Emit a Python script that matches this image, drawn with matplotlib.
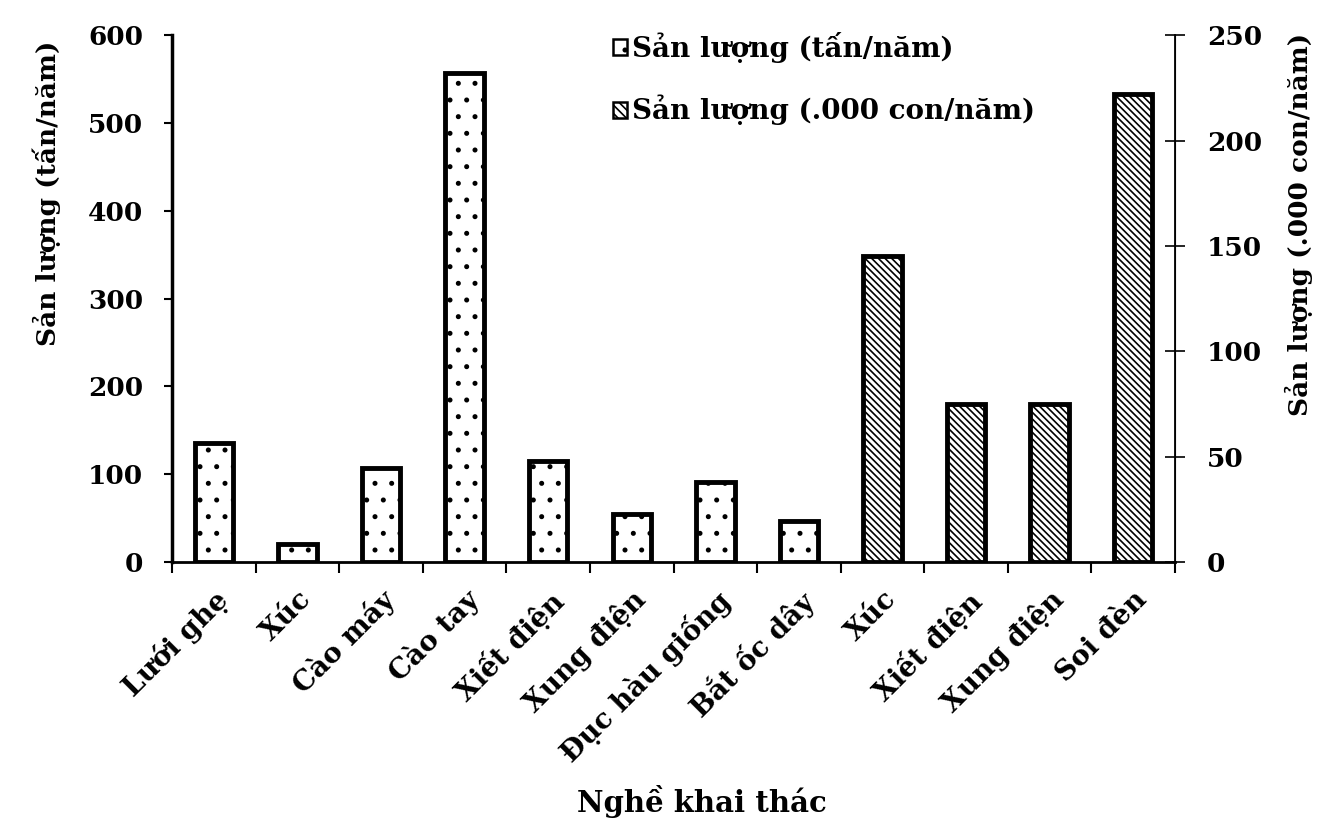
import numpy as np
import matplotlib
matplotlib.use('Agg')
import matplotlib.pyplot as plt
from matplotlib.patches import Patch

plt.rcParams['font.family'] = ['DejaVu Serif']
plt.rcParams['font.weight'] = 'bold'
plt.rcParams['hatch.linewidth'] = 1.2

# Data
categories = ['Lưới ghẹ', 'Xúc', 'Cào máy', 'Cào tay', 'Xiết điện', 'Xung điện',
              'Đục hàu giống', 'Bắt ốc dây', 'Xúc', 'Xiết điện', 'Xung điện', 'Soi đèn']
tan_nam = [135, 20, 107, 557, 115, 55, 91, 47]          # Sản lượng (tấn/năm)
ngan_con_nam = [145, 75, 75, 222]                        # Sản lượng (.000 con/năm)

label_tan = 'Sản lượng (tấn/năm)'
label_con = 'Sản lượng (.000 con/năm)'

x = np.arange(len(categories))
x_tan = x[:len(tan_nam)]
x_con = x[len(tan_nam):]

fig = plt.figure(figsize=(13.39, 8.18), dpi=100)
ax = fig.add_axes([0.1285, 0.313, 0.749, 0.644])
ax2 = ax.twinx()

ax.bar(x_tan, tan_nam, width=0.46, color='white', edgecolor='black',
       linewidth=3.5, hatch='.')
ax2.bar(x_con, ngan_con_nam, width=0.46, color='white', edgecolor='black',
        linewidth=3.5, hatch='\\\\\\\\\\')

ax.set_xlim(-0.5, len(categories) - 0.5)
ax.set_ylim(0, 600)
ax2.set_ylim(0, 250)
ax.set_yticks(range(0, 601, 100))
ax2.set_yticks(range(0, 251, 50))

# ticks at category boundaries, labels at category centres
ax.set_xticks(np.arange(-0.5, len(categories) + 0.5, 1))
ax.set_xticklabels([])
ax.set_xticks(x, minor=True)
ax.set_xticklabels(categories, minor=True, rotation=45, ha='right',
                   rotation_mode='anchor', fontsize=20, fontweight='bold')
ax.tick_params(axis='x', which='minor', length=0, pad=17)
ax.tick_params(axis='x', which='major', direction='out', length=8, width=1.5)

ax.tick_params(axis='y', direction='out', length=6, width=1.5, labelsize=19, pad=15)
ax2.tick_params(axis='y', direction='inout', length=14, width=1.2, labelsize=19, pad=16)

for a in (ax, ax2):
    a.spines['top'].set_visible(False)
ax.spines['left'].set_linewidth(2.5)
ax.spines['bottom'].set_linewidth(2)
ax2.spines['right'].set_linewidth(1.3)
ax2.spines['left'].set_visible(False)
ax2.spines['bottom'].set_visible(False)

ax.set_ylabel(label_tan, fontsize=19, fontweight='bold')
ax2.set_ylabel(label_con, fontsize=19, fontweight='bold', rotation=90)
ax.yaxis.set_label_coords(-0.111, 0.70)
ax2.yaxis.set_label_coords(1.11, 0.64)
ax.set_xlabel('Nghề khai thác', fontsize=21, fontweight='bold')
ax.xaxis.set_label_coords(0.528, -0.423)

handles = [Patch(facecolor='white', edgecolor='black', linewidth=1.8, hatch='.', label=label_tan),
           Patch(facecolor='white', edgecolor='black', linewidth=1.8, hatch='\\\\\\\\', label=label_con)]
ax.legend(handles=handles, loc='upper left', bbox_to_anchor=(0.42, 1.043), frameon=False,
          handlelength=0.5, handleheight=0.5, handletextpad=0.2, borderpad=0.2,
          labelspacing=1.15, prop={'weight': 'bold', 'size': 20})

fig.savefig('out.png', dpi=100)
